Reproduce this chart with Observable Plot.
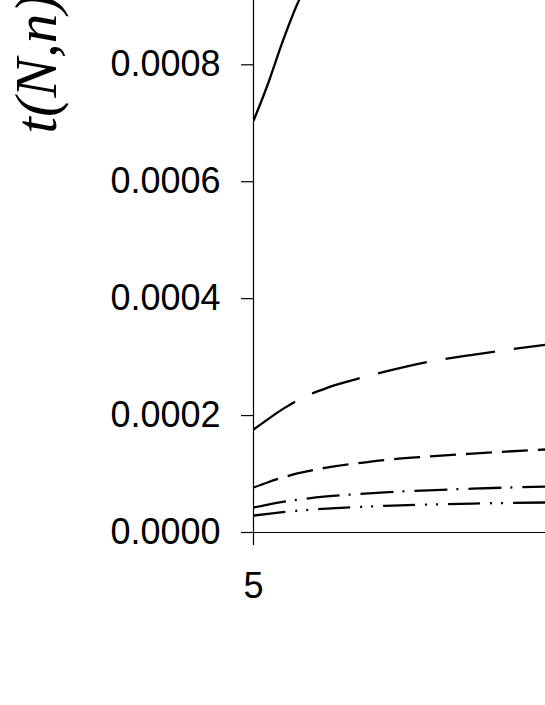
<!DOCTYPE html>
<html>
<head>
<meta charset="utf-8">
<script src="https://cdn.jsdelivr.net/npm/d3@7"></script>
<script src="https://cdn.jsdelivr.net/npm/@observablehq/plot@0.6"></script>
<style>
  html, body { margin: 0; padding: 0; background: #fff; overflow: hidden; }
  #chart svg { display: block; }
</style>
</head>
<body>
<div id="chart"></div>
<script>
// x positions (only the left part of the original axis is visible)
const xValues = [5, 6, 7, 8, 10, 12, 14, 17, 20, 25];
const xTicks = [5];
const yTicks = [0, 0.0002, 0.0004, 0.0006, 0.0008];

// series values
const seriesSolid     = [0.000704, 0.000768, 0.000840, 0.000904, 0.000988, 0.00105, 0.00110, 0.00117, 0.00122, 0.00128];
const seriesLongDash  = [0.000176, 0.000194, 0.000211, 0.000226, 0.000247, 0.000262, 0.000275, 0.000292, 0.000304, 0.000321];
const seriesDash      = [0.0000769, 0.000086, 0.000094, 0.000101, 0.000111, 0.000118, 0.000124, 0.000130, 0.000135, 0.000142];
const seriesDashDot   = [0.0000427, 0.0000478, 0.0000522, 0.0000560, 0.0000617, 0.0000655, 0.0000688, 0.0000722, 0.0000750, 0.0000786];
const seriesDashDotDot= [0.0000290, 0.0000320, 0.0000348, 0.0000372, 0.0000408, 0.0000434, 0.0000456, 0.0000478, 0.0000495, 0.0000513];

const yLabel = "t(N,n)";

const series = [
  {name: "solid", values: seriesSolid, dash: null},
  {name: "longdash", values: seriesLongDash, dash: "50,19"},
  {name: "dash", values: seriesDash, dash: "26,10"},
  {name: "dashdot", values: seriesDashDot, dash: "33,9,2,10"},
  {name: "dashdotdot", values: seriesDashDotDot, dash: "32,10,2,9,2,10"}
];

const lineMarks = series.map(s =>
  Plot.line(xValues.map((x, i) => ({x, y: s.values[i]})), {
    x: "x", y: "y",
    stroke: "#000",
    strokeWidth: 2.3,
    strokeDasharray: s.dash,
    strokeLinecap: "butt",
    curve: "monotone-x",
    clip: true
  })
);

const chart = Plot.plot({
  width: 545,
  height: 705,
  marginLeft: 253,
  marginRight: 0,
  marginTop: 0,
  marginBottom: 173,
  style: {fontFamily: "'Liberation Sans', Arial, sans-serif", background: "#fff", color: "#000"},
  x: {domain: [5, 25]},
  y: {domain: [0, 0.00091]},
  marks: [
    Plot.ruleX([5], {stroke: "#000", strokeWidth: 1.2}),
    Plot.ruleY([0], {stroke: "#000", strokeWidth: 1.2}),
    Plot.axisY(yTicks, {
      tickSize: 12, tickPadding: 21, fontSize: 36,
      tickFormat: d3.format(".4f"), label: null, stroke: "#000", strokeWidth: 1.2
    }),
    Plot.axisX(xTicks, {
      tickSize: 13, tickPadding: 27, fontSize: 36,
      tickFormat: d => String(d), label: null, stroke: "#000", strokeWidth: 1.2
    }),
    ...lineMarks,
    Plot.text([yLabel], {
      frameAnchor: "top-left",
      dx: -239, dy: 133,
      rotate: -90,
      textAnchor: "start",
      fontFamily: "'Liberation Serif', 'Times New Roman', serif",
      fontStyle: "italic",
      fontSize: 59,
      fill: "#000"
    })
  ]
});

document.getElementById("chart").appendChild(chart);
</script>
</body>
</html>
